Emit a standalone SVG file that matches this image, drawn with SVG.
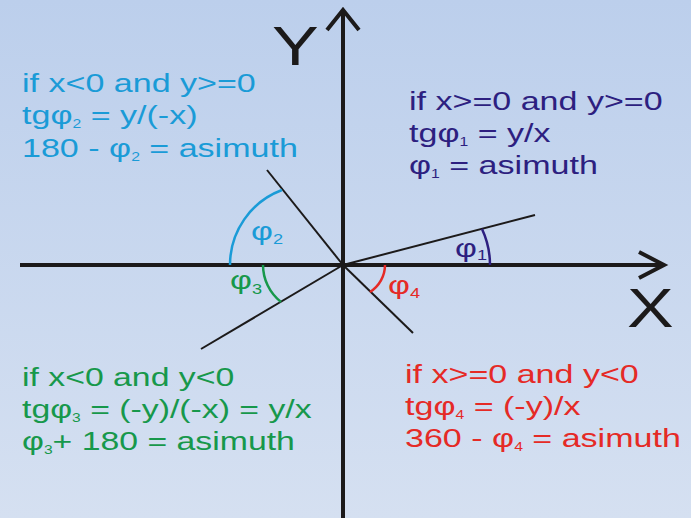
<svg xmlns="http://www.w3.org/2000/svg" width="691" height="518" viewBox="0 0 691 518">
<defs>
<linearGradient id="bg" x1="0" y1="0" x2="0" y2="1">
<stop offset="0" stop-color="#bccfec"/>
<stop offset="1" stop-color="#d5e0f1"/>
</linearGradient>
<style>
.t{font-family:"Liberation Sans",Arial,sans-serif;font-size:26px}
.s{font-size:12px}
.ls{font-size:14px}
.axis{stroke:#1c1a1a;stroke-width:4;fill:none}
.ray{stroke:#1c1a1a;stroke-width:2;fill:none}
.arc{stroke-width:2.5;fill:none}
.ax{font-family:"Liberation Sans",Arial,sans-serif;font-size:56px;fill:#1c1a1a}
</style>
</defs>
<rect width="691" height="518" fill="url(#bg)"/>
<g id="connectors">
<line class="axis" x1="20" y1="265" x2="664" y2="265"/>
<polyline class="axis" points="639,252 664,265 639,278"/>
<line class="axis" x1="343" y1="518" x2="343" y2="10"/>
<polyline class="axis" points="327,30 343,10 359,30"/>
<line class="ray" x1="343" y1="265" x2="535" y2="215"/>
<line class="ray" x1="343" y1="265" x2="267" y2="170"/>
<line class="ray" x1="343" y1="265" x2="201" y2="349"/>
<line class="ray" x1="343" y1="265" x2="413" y2="333"/>
</g>
<g id="axis-labels">
<text class="ax" transform="translate(272 65) scale(1.25 1)">Y</text>
<text class="ax" transform="translate(627 327) scale(1.25 1)">X</text>
</g>
<g id="angle1">
<path class="arc" stroke="#2d1f80" d="M490,265 A85,85 0 0 0 482,229"/>
<g transform="translate(455 0) scale(1.3 1)"><text class="t" fill="#2d1f80" x="0" y="257">φ<tspan class="ls" dy="3">1</tspan></text></g>
</g>
<g id="angle2">
<path class="arc" stroke="#1a9bd7" d="M230,265 A80,80 0 0 1 282,190"/>
<g transform="translate(251 0) scale(1.3 1)"><text class="t" fill="#1a9bd7" x="0" y="240">φ<tspan class="ls" dy="4">2</tspan></text></g>
</g>
<g id="angle3">
<path class="arc" stroke="#17984b" d="M263,265 A47,47 0 0 0 281,302"/>
<g transform="translate(230 0) scale(1.3 1)"><text class="t" fill="#17984b" x="0" y="289">φ<tspan class="ls" dy="5">3</tspan></text></g>
</g>
<g id="angle4">
<path class="arc" stroke="#e52a26" d="M385,265 A32,32 0 0 1 370,292"/>
<g transform="translate(388 0) scale(1.3 1)"><text class="t" fill="#e52a26" x="0" y="294">φ<tspan class="ls" dy="4">4</tspan></text></g>
</g>
<g id="quadrant2" transform="translate(22 0) scale(1.31 1)">
<text class="t" fill="#1a9bd7" x="0" y="92">if x&lt;0 and y&gt;=0</text>
<text class="t" fill="#1a9bd7" x="0" y="124">tgφ<tspan class="s" dy="4">2</tspan><tspan dy="-4"> = y/(-x)</tspan></text>
<text class="t" fill="#1a9bd7" x="0" y="157">180 - φ<tspan class="s" dy="4">2</tspan><tspan dy="-4"> = asimuth</tspan></text>
</g>
<g id="quadrant1" transform="translate(409 0) scale(1.31 1)">
<text class="t" fill="#2d1f80" x="0" y="110">if x&gt;=0 and y&gt;=0</text>
<text class="t" fill="#2d1f80" x="0" y="142">tgφ<tspan class="s" dy="4">1</tspan><tspan dy="-4"> = y/x</tspan></text>
<text class="t" fill="#2d1f80" x="0" y="174">φ<tspan class="s" dy="4">1</tspan><tspan dy="-4"> = asimuth</tspan></text>
</g>
<g id="quadrant3" transform="translate(22 0) scale(1.3 1)">
<text class="t" fill="#17984b" x="0" y="386">if x&lt;0 and y&lt;0</text>
<text class="t" fill="#17984b" x="0" y="418">tgφ<tspan class="s" dy="4">3</tspan><tspan dy="-4"> = (-y)/(-x) = y/x</tspan></text>
<text class="t" fill="#17984b" x="0" y="450">φ<tspan class="s" dy="4">3</tspan><tspan dy="-4">+ 180 = asimuth</tspan></text>
</g>
<g id="quadrant4" transform="translate(405 0) scale(1.31 1)">
<text class="t" fill="#e52a26" x="0" y="383">if x&gt;=0 and y&lt;0</text>
<text class="t" fill="#e52a26" x="0" y="415">tgφ<tspan class="s" dy="4">4</tspan><tspan dy="-4"> = (-y)/x</tspan></text>
<text class="t" fill="#e52a26" x="0" y="447">360 - φ<tspan class="s" dy="4">4</tspan><tspan dy="-4"> = asimuth</tspan></text>
</g>
</svg>
